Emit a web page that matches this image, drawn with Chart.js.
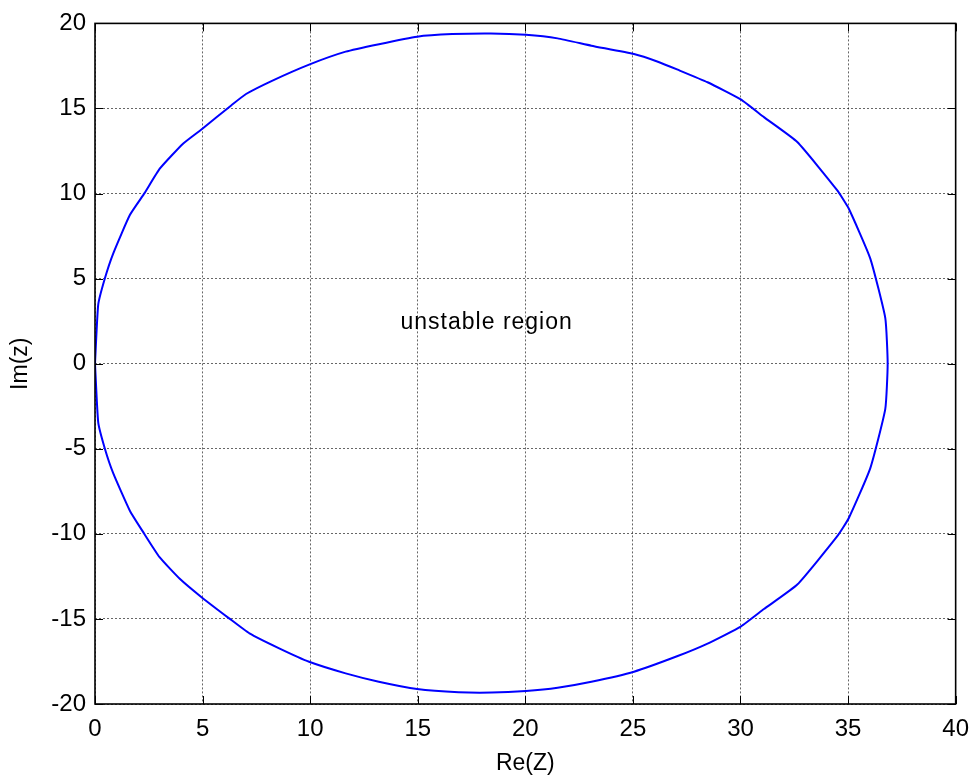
<!DOCTYPE html>
<html>
<head>
<meta charset="utf-8">
<script src="https://cdn.jsdelivr.net/npm/chart.js@4.4.1/dist/chart.umd.min.js"></script>
<style>
	html, body { margin: 0; padding: 0; background: #fff; }
</style>
</head>
<body>
<canvas id="nyquist-chart" width="980" height="778"></canvas>
<script>
// curve points (upper half then lower half, one closed loop)
var reZ = [0, 0.15, 0.46, 0.85, 1.62, 2.31, 3.01, 4.09, 4.99, 6.33, 7.02, 8.25, 9.95, 11.65, 13.2, 14.97, 16.6, 18.4,
	20.03, 21.5, 23.07, 25.05, 26.16, 27.08, 28.47, 30.01, 31.09, 32.64, 34.49, 35.03, 36.03, 36.73, 36.84,
	36.73, 36.03, 35.03, 34.49, 32.64, 31.09, 30.01, 28.47, 27.08, 25.05, 23.07, 21.5, 20.03, 18.44, 16.9,
	14.97, 13.19, 11.65, 9.95, 8.56, 7.18, 6.25, 4.98, 3.94, 3.0, 2.24, 1.62, 0.85, 0.46, 0.15, 0];
var imZ = [0, 3.47, 5.02, 6.49, 8.74, 10.04, 11.46, 12.93, 13.81, 15.18, 15.85, 16.64, 17.58, 18.34, 18.78, 19.22, 19.37, 19.41,
	19.33, 19.12, 18.69, 18.2, 17.75, 17.28, 16.54, 15.53, 14.49, 13.03, 10.2, 9.12, 6.19, 2.68, 0,
	-2.65, -6.15, -9.08, -10.15, -12.98, -14.42, -15.45, -16.45, -17.18, -18.1, -18.69, -19.04, -19.23, -19.33, -19.31,
	-19.12, -18.69, -18.2, -17.52, -16.73, -15.85, -14.98, -13.75, -12.64, -11.37, -9.9, -8.64, -6.45, -5.0, -3.45, 0];

var xTicks = [0, 5, 10, 15, 20, 25, 30, 35, 40];
var yTicks = [-20, -15, -10, -5, 0, 5, 10, 15, 20];

var noteText = "unstable region";
var noteAt = [14.2, 2.4];

var FONT = "'Liberation Sans', Arial, Helvetica, sans-serif";

// box round the axes, ticks pointing inwards on all four sides, and the text label
var frame = {
	id: 'frame',
	afterDraw: function(chart) {
		var ctx = chart.ctx, a = chart.chartArea;
		var sx = chart.scales.x, sy = chart.scales.y;
		var len = 8;
		ctx.save();
		ctx.strokeStyle = '#000';
		ctx.lineWidth = 1;
		ctx.beginPath();
		xTicks.forEach(function(v) {
			var px = Math.round(sx.getPixelForValue(v)) + 0.5;
			ctx.moveTo(px, a.bottom); ctx.lineTo(px, a.bottom - len);
			ctx.moveTo(px, a.top); ctx.lineTo(px, a.top + len);
		});
		yTicks.forEach(function(v) {
			var py = Math.round(sy.getPixelForValue(v)) + 0.5;
			ctx.moveTo(a.left, py); ctx.lineTo(a.left + len, py);
			ctx.moveTo(a.right, py); ctx.lineTo(a.right - len, py);
		});
		ctx.stroke();
		ctx.lineWidth = 1.6;
		ctx.strokeRect(a.left, a.top, a.right - a.left, a.bottom - a.top);

		ctx.fillStyle = '#000';
		ctx.font = '23px ' + FONT;
		ctx.textAlign = 'left';
		ctx.textBaseline = 'middle';
		if ('letterSpacing' in ctx) ctx.letterSpacing = '1px';
		ctx.fillText(noteText, sx.getPixelForValue(noteAt[0]), sy.getPixelForValue(noteAt[1]));
		ctx.restore();
	}
};

function chart() {
	try {
		new Chart(document.getElementById("nyquist-chart"), {
			type: 'scatter',
			data: {
				datasets: [{
					data: reZ.map(function(x, i) { return { x: x, y: imZ[i] }; }),
					showLine: true,
					borderColor: "#0000ff",
					borderWidth: 2,
					pointRadius: 0,
					tension: 0.15,
					fill: false
				}]
			},
			options: {
				responsive: false,
				animation: false,
				devicePixelRatio: 1,
				layout: { padding: { top: 21, right: 20, left: 0, bottom: 0 } },
				plugins: { legend: { display: false }, tooltip: { enabled: false } },
				scales: {
					x: {
						type: 'linear',
						min: 0, max: 40,
						afterBuildTicks: function(s) { s.ticks = xTicks.map(function(v) { return { value: v }; }); },
						afterFit: function(s) { s.height = 74; },
						grid: { color: 'rgba(0,0,0,0.6)', drawTicks: false },
						border: { display: false, dash: [2, 2] },
						ticks: { color: '#000', font: { family: FONT, size: 24 }, padding: 11, maxRotation: 0 },
						title: { display: true, text: 'Re(Z)', color: '#000', font: { family: FONT, size: 23 }, padding: { top: 0, bottom: 1 } }
					},
					y: {
						type: 'linear',
						min: -20, max: 20,
						afterBuildTicks: function(s) { s.ticks = yTicks.map(function(v) { return { value: v }; }); },
						afterFit: function(s) { s.width = 95; },
						grid: { color: 'rgba(0,0,0,0.6)', drawTicks: false },
						border: { display: false, dash: [2, 2] },
						ticks: { color: '#000', font: { family: FONT, size: 24 }, padding: 9 },
						title: { display: true, text: 'Im(z)', color: '#000', font: { family: FONT, size: 23 }, padding: { top: 7, bottom: 0 } }
					}
				}
			},
			plugins: [frame]
		});
	} catch (e) {
		console.error(e);
	}
}

chart();
</script>
</body>
</html>
